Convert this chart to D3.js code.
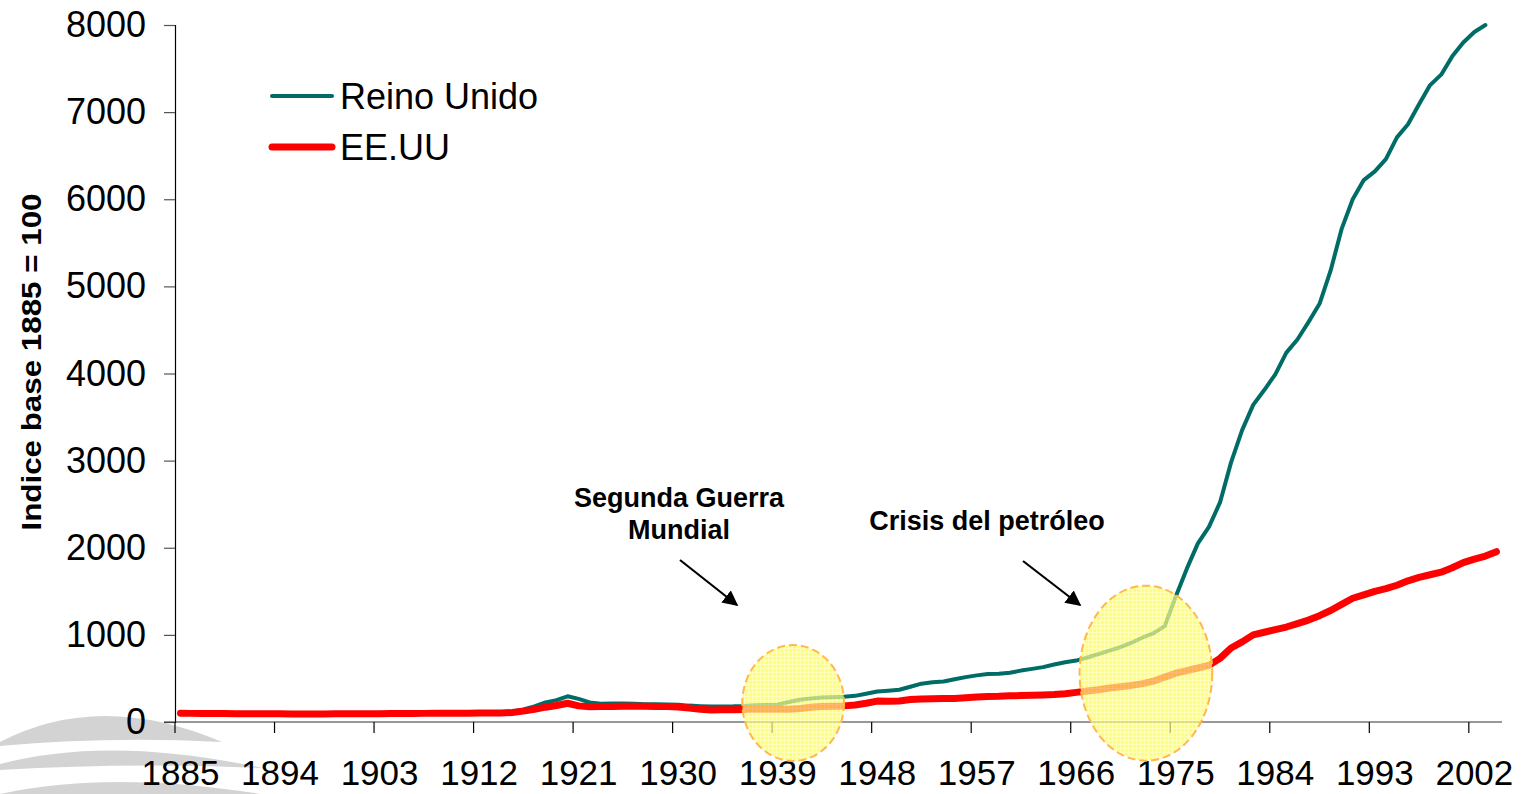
<!DOCTYPE html>
<html>
<head>
<meta charset="utf-8">
<script src="https://cdn.jsdelivr.net/npm/d3@7"></script>
<style>
  body { margin: 0; background: #fff; }
  text { font-family: "Liberation Sans", Arial, sans-serif; }
</style>
</head>
<body>
<script>
// index 1885 = 100, one value per year
const firstYear = 1885;
const years = d3.range(1885, 2005);   // 1885..2004
const tickYears = [1885, 1894, 1903, 1912, 1921, 1930, 1939, 1948, 1957, 1966, 1975, 1984, 1993, 2002];
const yTicks = [0, 1000, 2000, 3000, 4000, 5000, 6000, 7000, 8000];

// Reino Unido, 1885..2003
const ukValues = [
  100, 99, 98, 97, 97, 96, 96, 95, 94, 93,
  92, 92, 92, 93, 94, 95, 95, 95, 96, 96,
  97, 98, 99, 100, 100, 101, 103, 104, 105, 106,
  120, 145, 180, 225, 250, 295, 265, 225, 210, 212,
  213, 210, 205, 203, 202, 198, 188, 182, 178, 178,
  180, 185, 193, 195, 198, 230, 255, 270, 280, 285,
  290, 300, 325, 350, 360, 370, 405, 440, 455, 465,
  490, 515, 535, 550, 553, 565, 590, 610, 630, 660,
  685, 705, 740, 780, 820, 860, 910, 970, 1020, 1100,
  1440, 1760, 2050, 2240, 2520, 2980, 3350, 3640, 3810, 3990,
  4240, 4390, 4590, 4800, 5180, 5660, 6000, 6220, 6320, 6460,
  6710, 6860, 7090, 7310, 7430, 7640, 7800, 7920, 8000
];

// EE.UU, 1885..2004
const usValues = [
  100, 99, 98, 98, 97, 96, 96, 95, 95, 94,
  93, 93, 93, 93, 94, 95, 95, 96, 96, 97,
  97, 98, 99, 100, 100, 101, 101, 102, 102, 103,
  110, 125, 145, 170, 190, 215, 185, 175, 177, 178,
  180, 181, 180, 178, 178, 173, 160, 145, 138, 140,
  142, 144, 148, 146, 145, 147, 155, 170, 178, 182,
  185, 195, 215, 240, 238, 242, 258, 265, 268, 270,
  270, 278, 287, 293, 295, 300, 303, 307, 310, 315,
  325, 340, 355, 370, 390, 405, 420, 440, 470, 515,
  560, 590, 620, 650, 730, 850, 920, 1000, 1030, 1060,
  1090, 1130, 1170, 1220, 1280, 1350, 1420, 1460, 1500, 1530,
  1570, 1620, 1660, 1690, 1720, 1770, 1830, 1870, 1905, 1955
];

const seriesNames = ["Reino Unido", "EE.UU"];
const seriesColors = ["#006C66", "#FF0000"];

// highlighted periods: centre year / value, half width in years, half height as a value
const highlights = [
  { lines: ["Segunda Guerra", "Mundial"], year: 1940.4, value: 218, rx: 4.6, ry: 665 },
  { lines: ["Crisis del petróleo"], year: 1972.3, value: 560, rx: 6.0, ry: 1005 }
];

const width = 1530, height = 794;

const svg = d3.select("body").append("svg")
  .attr("width", width)
  .attr("height", height);

// grey swoosh decoration in the lower-left corner
const deco = svg.append("g").attr("fill", "#d3d3d3");
deco.append("path").attr("d", "M0,742 Q100,690 222,742 Q110,736 0,746 Z");
deco.append("path").attr("d", "M0,764 Q110,735 262,768 Q130,762 0,770 Z");
deco.append("path").attr("d", "M0,794 Q110,770 260,794 Z");

const x = d3.scaleBand()
  .domain(years)
  .range([175, 1502])
  .paddingInner(0).paddingOuter(0);
const bw = x.bandwidth();
const cx = yr => x(firstYear) + (yr - firstYear + 0.5) * bw;

const y = d3.scaleLinear()
  .domain([0, 8000])
  .range([722, 25]);

// y axis
const yAxis = svg.append("g")
  .attr("transform", "translate(175,0)")
  .call(d3.axisLeft(y).tickValues(yTicks).tickSize(11).tickPadding(18).tickFormat(d3.format("d")));
yAxis.select(".domain").attr("stroke", "#000").attr("stroke-width", 1.2);
yAxis.selectAll(".tick line").attr("stroke", "#555").attr("stroke-width", 1.2);
yAxis.selectAll("text")
  .attr("font-size", 36).attr("fill", "#000")
  .style("font-family", '"Liberation Sans", Arial, sans-serif');

// x axis line and ticks at category boundaries
svg.append("line")
  .attr("x1", 164).attr("x2", 1502)
  .attr("y1", y(0)).attr("y2", y(0))
  .attr("stroke", "#333").attr("stroke-width", 1.2);
svg.append("g").selectAll("line")
  .data(tickYears)
  .join("line")
  .attr("x1", d => x(d)).attr("x2", d => x(d))
  .attr("y1", y(0)).attr("y2", y(0) + 11)
  .attr("stroke", "#000").attr("stroke-width", 1.2);

// x labels centred in their category
const xAxis = svg.append("g")
  .attr("transform", `translate(0,${y(0)})`)
  .call(d3.axisBottom(x).tickValues(tickYears).tickSize(0).tickPadding(38));
xAxis.select(".domain").remove();
xAxis.selectAll("text")
  .attr("font-size", 35).attr("fill", "#000")
  .style("font-family", '"Liberation Sans", Arial, sans-serif');

// y axis title
svg.append("text")
  .attr("transform", "translate(41,362) rotate(-90)")
  .attr("text-anchor", "middle")
  .attr("font-size", 27)
  .attr("font-weight", "bold")
  .attr("textLength", 337)
  .attr("lengthAdjust", "spacingAndGlyphs")
  .text("Indice base 1885 = 100");

// series lines
const line = d3.line()
  .x((d, i) => cx(firstYear + i))
  .y(d => y(d));

svg.append("path")
  .datum(ukValues)
  .attr("d", line)
  .attr("fill", "none")
  .attr("stroke", seriesColors[0])
  .attr("stroke-width", 4)
  .attr("stroke-linejoin", "round")
  .attr("stroke-linecap", "round");

svg.append("path")
  .datum(usValues)
  .attr("d", line)
  .attr("fill", "none")
  .attr("stroke", seriesColors[1])
  .attr("stroke-width", 7)
  .attr("stroke-linejoin", "round")
  .attr("stroke-linecap", "round");

// highlight ellipses with a fine grid fill
const defs = svg.append("defs");
const pat = defs.append("pattern")
  .attr("id", "grid")
  .attr("width", 4).attr("height", 4)
  .attr("patternUnits", "userSpaceOnUse");
pat.append("rect").attr("width", 4).attr("height", 4).attr("fill", "#ffff40");
pat.append("path").attr("d", "M0,0.5 H4 M0.5,0 V4")
  .attr("stroke", "#ffffa0").attr("stroke-width", 1);

svg.append("g").selectAll("ellipse")
  .data(highlights)
  .join("ellipse")
  .attr("cx", d => cx(d.year))
  .attr("cy", d => y(d.value))
  .attr("rx", d => d.rx * bw)
  .attr("ry", d => y(0) - y(d.ry))
  .attr("fill", "url(#grid)")
  .attr("fill-opacity", 0.72)
  .attr("stroke", "#ffb84d")
  .attr("stroke-width", 2)
  .attr("stroke-dasharray", "8,4");

// annotations
defs.append("marker")
  .attr("id", "arrow")
  .attr("viewBox", "0 0 10 10")
  .attr("refX", 9).attr("refY", 5)
  .attr("markerWidth", 7).attr("markerHeight", 7)
  .attr("markerUnits", "strokeWidth")
  .attr("orient", "auto")
  .append("path").attr("d", "M0,0 L10,5 L0,10 Z").attr("fill", "#000");

const ann = [
  { lines: highlights[0].lines, tx: 679, ty: 507, from: [680, 560], to: [737, 605] },
  { lines: highlights[1].lines, tx: 987, ty: 530, from: [1023, 561], to: [1080, 605] }
];

ann.forEach(a => {
  const t = svg.append("text")
    .attr("text-anchor", "middle")
    .attr("font-size", 27)
    .attr("font-weight", "bold");
  a.lines.forEach((l, i) => {
    t.append("tspan").attr("x", a.tx).attr("y", a.ty + i * 32).text(l);
  });
  svg.append("line")
    .attr("x1", a.from[0]).attr("y1", a.from[1])
    .attr("x2", a.to[0]).attr("y2", a.to[1])
    .attr("stroke", "#000").attr("stroke-width", 2.2)
    .attr("marker-end", "url(#arrow)");
});

// legend
const legend = svg.append("g");
seriesNames.forEach((name, i) => {
  const ly = 96 + i * 51;
  legend.append("line")
    .attr("x1", 272).attr("x2", 332)
    .attr("y1", ly).attr("y2", ly)
    .attr("stroke", seriesColors[i])
    .attr("stroke-width", i === 0 ? 4 : 7)
    .attr("stroke-linecap", "round");
  legend.append("text")
    .attr("x", 340).attr("y", ly + 13)
    .attr("font-size", 36)
    .text(name);
});
</script>
</body>
</html>
